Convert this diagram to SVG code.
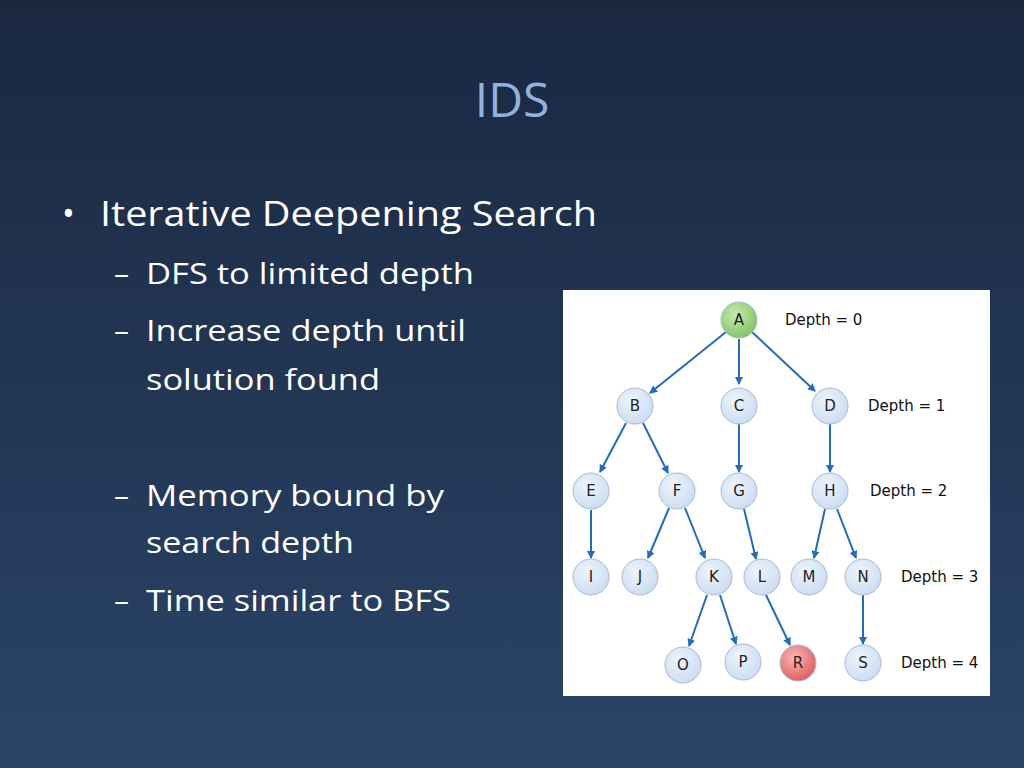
<svg xmlns="http://www.w3.org/2000/svg" width="1024" height="768" viewBox="0 0 1024 768">
<defs>
<linearGradient id="bg" x1="0" y1="0" x2="0" y2="1"><stop offset="0" stop-color="#1a2840"/><stop offset="1" stop-color="#2a4468"/></linearGradient>
<radialGradient id="nb" cx="0.4" cy="0.35" r="0.7"><stop offset="0" stop-color="#eef4fc"/><stop offset="1" stop-color="#c9dcf2"/></radialGradient>
<radialGradient id="ng" cx="0.4" cy="0.35" r="0.7"><stop offset="0" stop-color="#c8eab0"/><stop offset="1" stop-color="#7cc460"/></radialGradient>
<radialGradient id="nr" cx="0.4" cy="0.35" r="0.7"><stop offset="0" stop-color="#f8b8b8"/><stop offset="1" stop-color="#e05a5a"/></radialGradient>
<marker id="ah" markerWidth="8" markerHeight="8" refX="7" refY="4" orient="auto" markerUnits="userSpaceOnUse"><path d="M0,0 L8,4 L0,8 Z" fill="#1f6cc0"/></marker>
<style>
.b{font-family:"Open Sans","Liberation Sans",sans-serif;fill:#fff}
.n circle{stroke:#aabbd0;stroke-width:1}
.n text{font-family:"DejaVu Sans",sans-serif;font-size:15px;text-anchor:middle;fill:#222}
.d{font-family:"DejaVu Sans",sans-serif;font-size:15px;fill:#111}
#edges line{stroke:#1f6cc0;stroke-width:2;marker-end:url(#ah)}
</style>
</defs>
<rect width="1024" height="768" fill="url(#bg)"/>
<text x="512" y="117" text-anchor="middle" font-family="Open Sans, Liberation Sans, sans-serif" font-size="48" fill="#8fb3dc">IDS</text>
<text class="b" x="62" y="226" font-size="34">•</text>
<text class="b" x="100" y="226" font-size="35" textLength="497" lengthAdjust="spacingAndGlyphs">Iterative Deepening Search</text>
<g class="b" font-size="30">
<text x="114" y="284">–</text><text x="146" y="284" textLength="328" lengthAdjust="spacingAndGlyphs">DFS to limited depth</text>
<text x="114" y="341">–</text><text x="146" y="341" textLength="320" lengthAdjust="spacingAndGlyphs">Increase depth until</text>
<text x="146" y="390" textLength="234" lengthAdjust="spacingAndGlyphs">solution found</text>
<text x="114" y="506">–</text><text x="146" y="506" textLength="298" lengthAdjust="spacingAndGlyphs">Memory bound by</text>
<text x="146" y="553" textLength="208" lengthAdjust="spacingAndGlyphs">search depth</text>
<text x="114" y="611">–</text><text x="146" y="611" textLength="305" lengthAdjust="spacingAndGlyphs">Time similar to BFS</text>
</g>
<rect x="563" y="290" width="427" height="406" fill="#fff"/>
<g id="edges">
<line x1="726" y1="332" x2="650" y2="393"/>
<line x1="739" y1="339" x2="739" y2="384"/>
<line x1="752" y1="332" x2="815" y2="391"/>
<line x1="626" y1="423" x2="600" y2="472"/>
<line x1="643" y1="423" x2="668" y2="473"/>
<line x1="739" y1="424" x2="739" y2="472"/>
<line x1="830" y1="424" x2="830" y2="472"/>
<line x1="591" y1="510" x2="591" y2="558"/>
<line x1="669" y1="508" x2="648" y2="558"/>
<line x1="685" y1="508" x2="705" y2="558"/>
<line x1="744" y1="509" x2="756" y2="559"/>
<line x1="825" y1="509" x2="814" y2="558"/>
<line x1="837" y1="509" x2="856" y2="558"/>
<line x1="707" y1="595" x2="689" y2="646"/>
<line x1="720" y1="595" x2="736" y2="644"/>
<line x1="766" y1="595" x2="790" y2="645"/>
<line x1="863" y1="595" x2="863" y2="644"/>
</g>
<g class="n" id="A"><circle cx="739" cy="320" r="18" fill="url(#ng)"/><text x="739" y="325">A</text></g>
<g class="n" id="B"><circle cx="635" cy="406" r="18" fill="url(#nb)"/><text x="635" y="411">B</text></g>
<g class="n" id="C"><circle cx="739" cy="406" r="18" fill="url(#nb)"/><text x="739" y="411">C</text></g>
<g class="n" id="D"><circle cx="830" cy="406" r="18" fill="url(#nb)"/><text x="830" y="411">D</text></g>
<g class="n" id="E"><circle cx="591" cy="491" r="18" fill="url(#nb)"/><text x="591" y="496">E</text></g>
<g class="n" id="F"><circle cx="677" cy="491" r="18" fill="url(#nb)"/><text x="677" y="496">F</text></g>
<g class="n" id="G"><circle cx="739" cy="491" r="18" fill="url(#nb)"/><text x="739" y="496">G</text></g>
<g class="n" id="H"><circle cx="830" cy="491" r="18" fill="url(#nb)"/><text x="830" y="496">H</text></g>
<g class="n" id="I"><circle cx="591" cy="577" r="18" fill="url(#nb)"/><text x="591" y="582">I</text></g>
<g class="n" id="J"><circle cx="640" cy="577" r="18" fill="url(#nb)"/><text x="640" y="582">J</text></g>
<g class="n" id="K"><circle cx="714" cy="577" r="18" fill="url(#nb)"/><text x="714" y="582">K</text></g>
<g class="n" id="L"><circle cx="762" cy="577" r="18" fill="url(#nb)"/><text x="762" y="582">L</text></g>
<g class="n" id="M"><circle cx="809" cy="577" r="18" fill="url(#nb)"/><text x="809" y="582">M</text></g>
<g class="n" id="N"><circle cx="863" cy="577" r="18" fill="url(#nb)"/><text x="863" y="582">N</text></g>
<g class="n" id="O"><circle cx="683" cy="665" r="18" fill="url(#nb)"/><text x="683" y="670">O</text></g>
<g class="n" id="P"><circle cx="743" cy="662" r="18" fill="url(#nb)"/><text x="743" y="667">P</text></g>
<g class="n" id="R"><circle cx="798" cy="663" r="18" fill="url(#nr)"/><text x="798" y="668">R</text></g>
<g class="n" id="S"><circle cx="863" cy="663" r="18" fill="url(#nb)"/><text x="863" y="668">S</text></g>
<text class="d" x="785" y="325">Depth = 0</text>
<text class="d" x="868" y="411">Depth = 1</text>
<text class="d" x="870" y="496">Depth = 2</text>
<text class="d" x="901" y="582">Depth = 3</text>
<text class="d" x="901" y="668">Depth = 4</text>
</svg>
